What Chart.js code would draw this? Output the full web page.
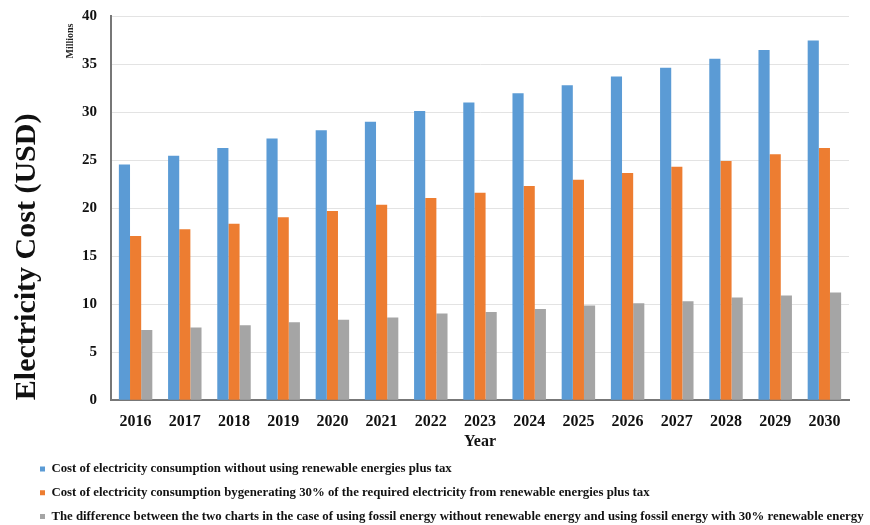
<!DOCTYPE html>
<html>
<head>
<meta charset="utf-8">
<script src="https://cdn.jsdelivr.net/npm/chart.js@4.4.1/dist/chart.umd.min.js"></script>
<style>
  html, body { margin: 0; padding: 0; background: #fff; }
  #wrap { width: 870px; height: 525px; }
</style>
</head>
<body>
<div id="wrap"><canvas id="costChart"></canvas></div>
<script>
// years on the x axis
const years = ['2016', '2017', '2018', '2019', '2020', '2021', '2022', '2023',
               '2024', '2025', '2026', '2027', '2028', '2029', '2030'];

// values in millions USD
const costNoRenewable = [24.55, 25.45, 26.25, 27.25, 28.1, 29.0, 30.1, 31.0,
                         31.95, 32.8, 33.7, 34.6, 35.55, 36.45, 37.45];
const costWith30Renewable = [17.1, 17.8, 18.37, 19.06, 19.69, 20.35, 21.04, 21.6,
                             22.3, 22.95, 23.65, 24.3, 24.9, 25.6, 26.25];
const costDifference = [7.3, 7.57, 7.8, 8.12, 8.37, 8.6, 9.03, 9.17,
                        9.5, 9.85, 10.1, 10.3, 10.7, 10.9, 11.2];

const seriesLabels = [
    'Cost of electricity consumption without using renewable energies plus tax',
    'Cost of electricity consumption bygenerating 30% of the required electricity from renewable energies plus tax',
    'The difference between the two charts in the case of using fossil energy without renewable energy and using fossil energy with 30% renewable energy'
];

const yTicks = [0, 5, 10, 15, 20, 25, 30, 35, 40];

const serif = "'Liberation Serif', 'Times New Roman', serif";

// small "Millions" note beside the y axis + nudge legend to the right
const extrasPlugin = {
    id: 'extras',
    afterLayout(chart) {
        chart.legend.left += 20;
        chart.legend.right += 20;
    },
    afterDraw(chart) {
        const { ctx, chartArea } = chart;
        ctx.save();
        ctx.translate(chartArea.left - 41, chartArea.top + 25);
        ctx.rotate(-Math.PI / 2);
        ctx.fillStyle = '#222';
        ctx.font = 'bold 10px ' + serif;
        ctx.textAlign = 'center';
        ctx.textBaseline = 'middle';
        ctx.fillText('Millions', 0, 0);
        ctx.restore();
    }
};

new Chart(document.getElementById('costChart'), {
    type: 'bar',
    data: {
        labels: years,
        datasets: [
            { label: seriesLabels[0], data: costNoRenewable, backgroundColor: '#5B9BD5' },
            { label: seriesLabels[1], data: costWith30Renewable, backgroundColor: '#ED7D31' },
            { label: seriesLabels[2], data: costDifference, backgroundColor: '#A5A5A5' }
        ]
    },
    options: {
        responsive: true,
        maintainAspectRatio: false,
        animation: false,
        datasets: { bar: { barPercentage: 1.0, categoryPercentage: 0.68 } },
        layout: { padding: { top: 0, right: 21, left: 9, bottom: -8 } },
        scales: {
            x: {
                grid: { display: false, drawTicks: false },
                border: { color: '#777', width: 2 },
                ticks: { color: '#111', font: { family: serif, size: 16, weight: 'bold' }, padding: 12 },
                title: { display: true, text: 'Year', color: '#111', font: { family: serif, size: 16, weight: 'bold' }, padding: { top: -11, bottom: 0 } }
            },
            y: {
                min: 0,
                max: 40,
                afterBuildTicks(axis) { axis.ticks = yTicks.map(v => ({ value: v })); },
                grid: { color: '#e3e3e3', drawTicks: true, tickLength: 7, tickColor: 'rgba(0,0,0,0)' },
                border: { color: '#777', width: 2 },
                ticks: { color: '#111', font: { family: serif, size: 15, weight: 'bold' }, padding: 7 },
                title: { display: true, align: 'start', text: 'Electricity Cost (USD)', color: '#111', font: { family: serif, size: 30, weight: 'bold' }, padding: { top: 0, bottom: 30 } }
            }
        },
        plugins: {
            legend: {
                position: 'bottom',
                align: 'start',
                labels: {
                    color: '#111',
                    font: { family: serif, size: 12.8, weight: 'bold' },
                    boxWidth: 5,
                    boxHeight: 5,
                    padding: 11
                }
            },
            tooltip: { enabled: false }
        }
    },
    plugins: [extrasPlugin]
});
</script>
</body>
</html>
